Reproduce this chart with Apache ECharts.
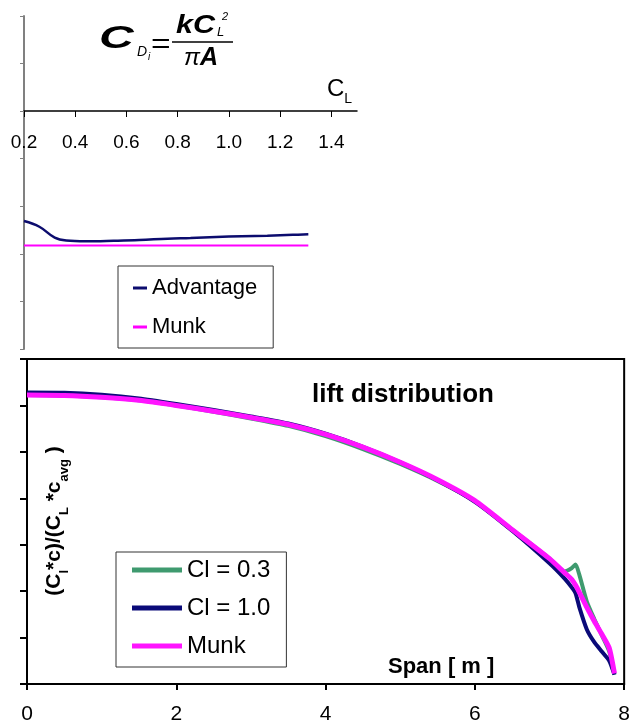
<!DOCTYPE html>
<html><head><meta charset="utf-8">
<script src="https://cdn.jsdelivr.net/npm/echarts@6/dist/echarts.min.js"></script>
<style>html,body{margin:0;padding:0;background:#fff}#c{width:633px;height:725px}</style>
</head><body><div id="c"></div>
<script>
// ---- top chart data (k factor vs CL) ----
const clValues   = [0.2, 0.26, 0.32, 0.365, 0.44, 0.55, 0.65, 0.76, 0.85, 0.95, 1.05, 1.15, 1.25, 1.31];
const advantage  = [-2.31, -2.43, -2.66, -2.72, -2.735, -2.725, -2.71, -2.68, -2.665, -2.645, -2.63, -2.617, -2.60, -2.59];
const munkTopX   = [0.2, 1.31];
const munkTopY   = [-2.826, -2.826];
const clTicks    = [0.2, 0.4, 0.6, 0.8, 1.0, 1.2, 1.4];
const clTickLabels = ['0.2', '0.4', '0.6', '0.8', '1.0', '1.2', '1.4'];

// ---- bottom chart data (lift distribution) ----
const spanX = [0, 0.5, 1, 1.5, 2, 2.5, 3, 3.5, 4, 4.5, 5, 5.5, 6, 6.5, 7, 7.2, 7.3, 7.35, 7.4, 7.5, 7.6, 7.7, 7.8, 7.87];
const cl03  = [1.245, 1.243, 1.235, 1.222, 1.200, 1.173, 1.144, 1.112, 1.068, 1.012, 0.948, 0.875, 0.788, 0.665, 0.540, 0.485, 0.500, 0.515, 0.470, 0.355, 0.280, 0.210, 0.140, 0.040];
const cl10  = [1.256, 1.255, 1.246, 1.230, 1.206, 1.180, 1.152, 1.122, 1.078, 1.022, 0.955, 0.878, 0.785, 0.660, 0.520, 0.455, 0.415, 0.390, 0.330, 0.235, 0.180, 0.140, 0.100, 0.040];
const munk  = [1.245, 1.243, 1.235, 1.222, 1.200, 1.175, 1.148, 1.118, 1.075, 1.020, 0.955, 0.880, 0.790, 0.665, 0.540, 0.480, 0.450, 0.425, 0.395, 0.330, 0.270, 0.215, 0.155, 0.045];
const spanTicks = [0, 2, 4, 6, 8];

const zip = (xs, ys) => xs.map((x, i) => [x, ys[i]]);
const ARIAL = "'Liberation Sans',Arial,sans-serif";

const chart = echarts.init(document.getElementById('c'));
chart.setOption({
  animation: false,
  backgroundColor: '#fff',
  grid: [
    {left: 24, right: 276, top: 16, bottom: 376, containLabel: false},
    {left: 27, right: 7, top: 359, bottom: 39, containLabel: false, show: true, borderColor: '#000', borderWidth: 2}
  ],
  xAxis: [
    {type: 'value', gridIndex: 0, min: 0.2, max: 1.5, interval: 0.2, position: 'bottom', offset: -238,
     axisLine: {show: true, onZero: false, lineStyle: {color: '#000', width: 1.5}},
     axisTick: {show: true, length: 6, customValues: clTicks, lineStyle: {color: '#000'}},
     axisLabel: {customValues: clTicks, formatter: v => clTickLabels[clTicks.findIndex(t => Math.abs(t - v) < 1e-6)],
                 margin: 22, fontSize: 19, fontFamily: ARIAL, color: '#000'},
     splitLine: {show: false}},
    {type: 'value', gridIndex: 1, min: 0, max: 8, interval: 2,
     axisLine: {show: true, onZero: false, lineStyle: {color: '#000', width: 2}},
     axisTick: {show: true, length: 6, customValues: spanTicks, lineStyle: {color: '#000', width: 2}},
     axisLabel: {customValues: spanTicks, margin: 20, fontSize: 21, fontFamily: ARIAL, color: '#000'},
     splitLine: {show: false}}
  ],
  yAxis: [
    {type: 'value', gridIndex: 0, min: -5, max: 2, interval: 1,
     axisLine: {show: true, onZero: false, lineStyle: {color: '#808080', width: 2}},
     axisTick: {show: true, length: 4, lineStyle: {color: '#808080'}},
     axisLabel: {show: false}, splitLine: {show: false}},
    {type: 'value', gridIndex: 1, min: 0, max: 1.4, interval: 0.2,
     axisLine: {show: true, onZero: false, lineStyle: {color: '#000', width: 2}},
     axisTick: {show: true, length: 7, lineStyle: {color: '#000', width: 2}},
     axisLabel: {show: false}, splitLine: {show: false}}
  ],
  legend: [
    {orient: 'vertical', left: 118, top: 266, selectedMode: false,
     data: ['Advantage', 'Munk'], icon: 'rect', itemWidth: 14, itemHeight: 3, itemGap: 17,
     padding: [11, 16, 10, 15], borderColor: '#333', borderWidth: 1, backgroundColor: '#fff',
     textStyle: {fontSize: 22, fontFamily: ARIAL, color: '#000'}},
    {orient: 'vertical', left: 116, top: 552, selectedMode: false,
     data: ['Cl = 0.3', 'Cl = 1.0', 'Munk '], icon: 'rect', itemWidth: 50, itemHeight: 5, itemGap: 14,
     formatter: n => n.trim(),
     padding: [6, 16, 9, 16], borderColor: '#333', borderWidth: 1, backgroundColor: '#fff',
     textStyle: {fontSize: 24, fontFamily: ARIAL, color: '#000'}}
  ],
  series: [
    {name: 'Advantage', type: 'line', xAxisIndex: 0, yAxisIndex: 0, data: zip(clValues, advantage),
     symbol: 'none', smooth: 0.4, color: '#0c0c6e', lineStyle: {width: 2.5, color: '#0c0c6e'}},
    {name: 'Munk', type: 'line', xAxisIndex: 0, yAxisIndex: 0, data: zip(munkTopX, munkTopY),
     symbol: 'none', color: '#ff00ff', lineStyle: {width: 2, color: '#ff00ff'}},
    {name: 'Cl = 0.3', type: 'line', xAxisIndex: 1, yAxisIndex: 1, data: zip(spanX, cl03),
     symbol: 'none', smooth: 0.2, color: '#3f9a6f', lineStyle: {width: 4, color: '#3f9a6f'}},
    {name: 'Cl = 1.0', type: 'line', xAxisIndex: 1, yAxisIndex: 1, data: zip(spanX, cl10),
     symbol: 'none', smooth: 0.2, color: '#0a0a78', lineStyle: {width: 4, color: '#0a0a78'}},
    {name: 'Munk ', type: 'line', xAxisIndex: 1, yAxisIndex: 1, data: zip(spanX, munk),
     symbol: 'none', smooth: 0.2, color: '#ff14ff', lineStyle: {width: 5, color: '#ff14ff'}}
  ],
  graphic: [
    // formula C_Di = k C_L^2 / (pi A)
    {type: 'text', x: 99, y: 24, scaleX: 1.55, style: {text: 'C', font: 'italic bold 31px ' + ARIAL, fill: '#000'}},
    {type: 'text', x: 137, y: 45, style: {text: 'D', font: 'italic 14px ' + ARIAL, fill: '#000'}},
    {type: 'text', x: 148, y: 52, style: {text: 'i', font: 'italic 10px ' + ARIAL, fill: '#000'}},
    {type: 'text', x: 151, y: 31, scaleX: 1.2, style: {text: '=', font: '28px ' + ARIAL, fill: '#000'}},
    {type: 'line', shape: {x1: 172, y1: 42, x2: 233, y2: 42}, style: {stroke: '#000', lineWidth: 1.5}},
    {type: 'text', x: 176, y: 14, scaleX: 1.22, style: {text: 'kC', font: 'italic bold 25px ' + ARIAL, fill: '#000'}},
    {type: 'text', x: 217, y: 26, style: {text: 'L', font: 'italic 13px ' + ARIAL, fill: '#000'}},
    {type: 'text', x: 222, y: 11, style: {text: '2', font: 'italic 11px ' + ARIAL, fill: '#000'}},
    {type: 'text', x: 184, y: 46, style: {text: 'π', font: 'italic 24px ' + ARIAL, fill: '#000'}},
    {type: 'text', x: 200, y: 46, style: {text: 'A', font: 'italic bold 25px ' + ARIAL, fill: '#000'}},
    // C_L axis label
    {type: 'text', x: 327, y: 77, style: {text: '{c|C}{s|L}', rich: {
      c: {fontSize: 24, fontFamily: ARIAL, fill: '#000', lineHeight: 24},
      s: {fontSize: 14, fontFamily: ARIAL, fill: '#000', verticalAlign: 'bottom', lineHeight: 24, padding: [0, 0, -5, 0]}}}},
    // lift distribution title
    {type: 'text', x: 312, y: 382, style: {text: 'lift distribution', font: 'bold 26px ' + ARIAL, fill: '#000'}},
    // Span label
    {type: 'text', x: 388, y: 667, style: {text: 'Span [ m ]', font: 'bold 22px ' + ARIAL, fill: '#000', textVerticalAlign: 'middle'}},
    // y axis name
    {type: 'text', x: 54, y: 521, rotation: Math.PI / 2, style: {
      text: '{a|(C}{s|l}{a|*c)/(C}{s|L}{a| *c}{s|avg}{a| )}', textAlign: 'center', textVerticalAlign: 'middle',
      rich: {
        a: {fontSize: 21, fontWeight: 'bold', fontFamily: ARIAL, fill: '#000', lineHeight: 26},
        s: {fontSize: 13, fontWeight: 'bold', fontFamily: ARIAL, fill: '#000', lineHeight: 26, verticalAlign: 'bottom', padding: [0, 0, -4, 0]}
      }}}
  ]
});
</script></body></html>
